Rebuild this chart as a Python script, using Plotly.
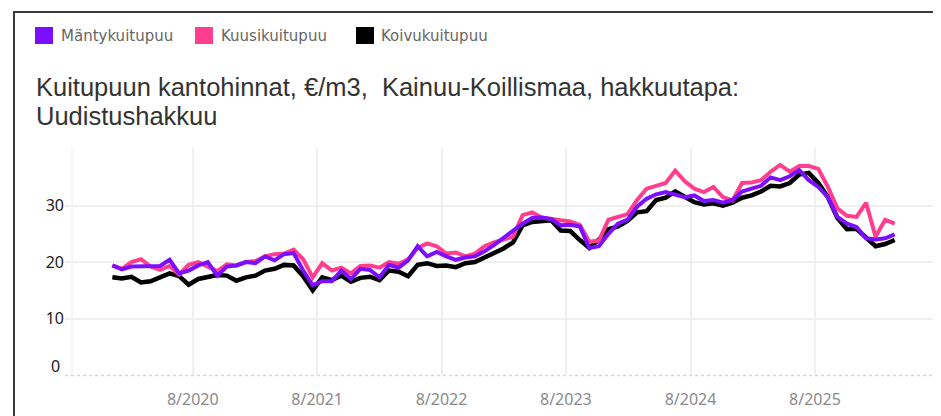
import plotly.graph_objects as go
import pandas as pd

# stumpage prices for pulpwood, 4-week steps starting Dec 2019
start_date = "2019-12-09"

manty = [19.4, 18.7, 19.2, 19.2, 19.2, 19.3, 20.4, 18.0, 18.5, 19.4,
         20.0, 17.6, 19.2, 19.4, 20.0, 19.8, 21.0, 20.3, 21.4, 21.6,
         18.5, 15.9, 16.6, 16.6, 18.5, 17.0, 18.8, 18.6, 17.3, 19.5,
         19.0, 20.3, 22.8, 21.0, 21.8, 21.0, 20.4, 20.8, 21.0, 21.9,
         23.0, 24.3, 25.5, 26.8, 27.8, 27.9, 27.6, 26.5, 26.6, 26.3,
         22.5, 22.8, 25.0, 26.8, 27.5, 29.8, 31.2, 32.0, 32.4, 32.0,
         31.5, 31.8, 30.8, 31.0, 30.5, 31.0, 32.5, 33.0, 33.5, 35.0,
         34.5, 35.2, 36.3, 34.5, 33.3, 31.5, 28.0, 26.8, 26.2, 24.2,
         24.0, 24.2, 24.9]

kuusi = [19.4, 18.8, 20.0, 20.5, 19.2, 18.6, 19.3, 17.8, 19.5, 20.0,
         19.2, 18.4, 19.6, 19.4, 20.0, 20.2, 21.0, 21.4, 21.5, 22.2,
         20.5, 17.3, 19.8, 18.5, 19.0, 18.0, 19.3, 19.4, 19.0, 20.0,
         19.7, 20.5, 22.5, 23.3, 22.8, 21.5, 21.7, 21.0, 21.5, 22.8,
         23.5, 24.0, 24.5, 28.3, 28.8, 27.9, 27.6, 27.4, 27.2, 26.6,
         23.6, 23.8, 27.5, 28.0, 28.5, 31.0, 33.0, 33.5, 34.0, 36.2,
         34.3, 33.0, 32.4, 33.3, 31.5, 30.9, 34.0, 34.1, 34.5, 36.0,
         37.2, 36.0, 37.0, 37.0, 36.5, 33.3, 29.5, 28.2, 28.0, 30.5,
         24.5, 27.5, 26.8]

koivu = [17.3, 17.1, 17.4, 16.4, 16.6, 17.3, 18.0, 17.5, 16.0, 17.0,
         17.4, 17.7, 17.6, 16.7, 17.3, 17.6, 18.5, 18.8, 19.5, 19.4,
         17.5, 15.0, 17.3, 16.8, 17.6, 16.5, 17.2, 17.4, 16.8, 18.5,
         18.3, 17.5, 19.5, 19.8, 19.3, 19.4, 19.1, 19.8, 20.0, 20.8,
         21.4, 22.4, 23.5, 26.5, 27.1, 27.3, 27.4, 25.6, 25.5, 23.9,
         22.5, 24.0, 25.8, 26.3, 27.3, 28.8, 29.0, 31.0, 31.4, 32.5,
         31.6, 30.6, 30.2, 30.4, 30.0, 30.5, 31.4, 31.8, 32.5, 33.5,
         33.4, 34.0, 35.5, 35.8, 34.0, 31.5, 27.8, 25.8, 25.9, 24.3,
         22.8, 23.2, 23.9]

tick_dates = ["2020-08-01", "2021-08-01", "2022-08-01", "2023-08-01", "2024-08-01", "2025-08-01"]
tick_labels = ["8/2020", "8/2021", "8/2022", "8/2023", "8/2024", "8/2025"]

names = ["Mäntykuitupuu", "Kuusikuitupuu", "Koivukuitupuu"]
colors = ["#7B0EFF", "#FF3E8E", "#000000"]

dates = pd.date_range(start_date, periods=len(manty), freq="28D")

# page body has an 8px margin, so the figure is a bit smaller than the window
OFF = 8
W, H = 941 - OFF, 416 - OFF
# plot area in window pixels
X0, X1, Y0, Y1 = 65, 941, 148, 375
L, T, B = X0 - OFF, Y0 - OFF, H - (Y1 - OFF)
PW, PH = X1 - X0, Y1 - Y0


def px2x(p):
    return (p - X0) / PW


def py2y(p):
    return (Y1 - p) / PH


fig = go.Figure()
# black under, purple on top
fig.add_trace(go.Scatter(x=dates, y=koivu, mode="lines", name=names[2],
                         line=dict(color=colors[2], width=4.5)))
fig.add_trace(go.Scatter(x=dates, y=kuusi, mode="lines", name=names[1],
                         line=dict(color=colors[1], width=4)))
fig.add_trace(go.Scatter(x=dates, y=manty, mode="lines", name=names[0],
                         line=dict(color=colors[0], width=4)))

shapes = [
    # outer frame of the card
    dict(type="rect", xref="paper", yref="paper",
         x0=px2x(14), x1=px2x(990), y0=py2y(460), y1=py2y(12),
         line=dict(color="#3a3a3a", width=2), layer="below"),
    # left edge line of the plot
    dict(type="line", xref="paper", yref="paper",
         x0=px2x(72), x1=px2x(72), y0=0, y1=1,
         line=dict(color="#ececec", width=1), layer="below"),
    # dotted zero line
    dict(type="line", xref="paper", yref="paper",
         x0=0, x1=1, y0=py2y(375.5), y1=py2y(375.5),
         line=dict(color="#d6d6d6", width=1.5, dash="dot"), layer="below"),
]

annotations = []
legend_pos = [(35, 60), (195, 220), (356, 380)]
for (sx, tx), name, col in zip(legend_pos, names, colors):
    shapes.append(dict(type="rect", xref="paper", yref="paper",
                       x0=px2x(sx), x1=px2x(sx + 18), y0=py2y(44), y1=py2y(27),
                       fillcolor=col, line=dict(width=0)))
    annotations.append(dict(text=name, xref="paper", yref="paper",
                            x=px2x(tx), y=py2y(35.5), xanchor="left", yanchor="middle",
                            showarrow=False, borderpad=0,
                            font=dict(family="DejaVu Sans", size=15, color="#666666")))

title_lines = ["Kuitupuun kantohinnat, €/m3,  Kainuu-Koillismaa, hakkuutapa:", "Uudistushakkuu"]
for line, yc in zip(title_lines, [87.0, 115.5]):
    annotations.append(dict(text=line, xref="paper", yref="paper",
                            x=px2x(35), y=py2y(yc), xanchor="left", yanchor="middle",
                            showarrow=False, borderpad=0,
                            font=dict(family="Liberation Sans", size=25.5, color="#333333")))

# zero label sits a little above its line
annotations.append(dict(text="0", xref="paper", yref="paper",
                        x=px2x(61), y=py2y(366), xanchor="right", yanchor="middle",
                        showarrow=False, borderpad=0,
                        font=dict(family="Noto Sans", size=16, color="#222222")))

fig.update_layout(
    width=W, height=H,
    margin=dict(l=L, r=0, t=T, b=B, pad=0),
    paper_bgcolor="white", plot_bgcolor="white",
    showlegend=False,
    shapes=shapes,
    annotations=annotations,
    xaxis=dict(range=["2019-07-23", "2026-08-06"],
               tickvals=tick_dates, ticktext=tick_labels,
               showgrid=True, gridcolor="#efefef", gridwidth=1.5,
               zeroline=False, showline=False, ticks="",
               ticklabelstandoff=13,
               tickfont=dict(family="Noto Sans", size=16, color="#8a8a8a")),
    yaxis=dict(range=[0, 40.2], tickvals=[10, 20, 30],
               showgrid=True, gridcolor="#efefef", gridwidth=1.5,
               zeroline=False, showline=False, ticks="",
               ticklabelstandoff=0,
               tickfont=dict(family="Noto Sans", size=16, color="#222222")),
)

fig.write_html("out.html")
